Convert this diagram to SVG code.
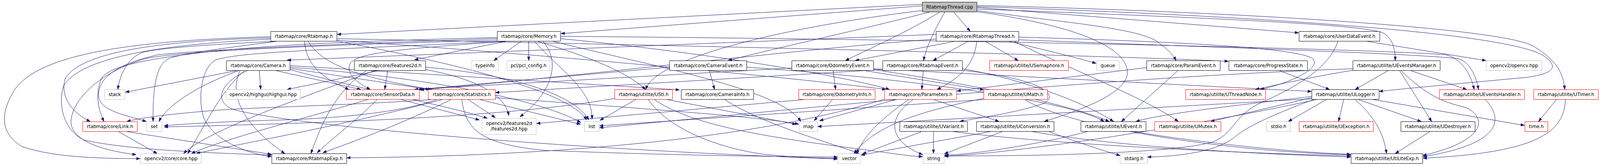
<svg xmlns="http://www.w3.org/2000/svg" width="4400" height="425" viewBox="0 0 4400 425">
<style>
.n rect{fill:#ffffff;stroke:#000000;stroke-width:1;vector-effect:non-scaling-stroke}
.g rect{stroke:#bfbfbf}
.r rect{stroke:#ff0000}
text{font-family:"DejaVu Sans","Liberation Sans",sans-serif;font-size:12.7px;text-anchor:middle;fill:#000000}
.e path{fill:none;stroke:#191970;stroke-width:1;vector-effect:non-scaling-stroke;marker-end:url(#a)}
</style>
<defs>
<marker id="a" markerUnits="userSpaceOnUse" markerWidth="11" markerHeight="8" refX="10" refY="3.5" orient="auto"><path d="M0,0 L10,3.5 L0,7 z" fill="#191970" stroke="#191970"/></marker>
</defs>
<rect width="4400" height="425" fill="#ffffff"/>
<g id="diagram" transform="scale(0.930909 1)">
<g id="edges" class="e">
<path d="M2623,31 L2668,80"/>
<path d="M2598,31 C2575,70 2548,115 2540,155"/>
<path d="M2584,31 C2500,80 2390,125 2325,155"/>
<path d="M2556,31 C2350,80 2100,130 2003,155"/>
<path d="M2536,27 C2150,70 1800,150 1776,229"/>
<path d="M2536,15 L1543,86"/>
<path d="M2536,11 L928,88"/>
<path d="M2687,19 L3571,84"/>
<path d="M2687,23 C3300,45 3760,62 3805,85 C3832,100 3837,130 3837,155"/>
<path d="M2687,14 C3400,30 4100,70 4210,115 C4280,150 4300,190 4303,229"/>
<path d="M2687,17 C3500,42 4130,85 4240,140 C4290,170 4275,188 4200,198 C4000,215 3850,228 3793,234"/>
<path d="M2687,27 C2900,55 3120,70 3180,105 C3210,125 3226,140 3234,155"/>
<path d="M2687,30 C2920,60 3090,110 3100,180 C3108,240 2960,285 2872,311"/>
<path d="M2624,106 L2352,155"/>
<path d="M2662,106 L2566,155"/>
<path d="M2686,106 C2680,170 2630,205 2577,229"/>
<path d="M2710,106 L2800,155"/>
<path d="M2775,106 C2860,125 2950,145 3014,162"/>
<path d="M2802,95 C3300,108 3570,125 3610,150 C3635,175 3550,212 3466,229"/>
<path d="M2790,106 C2900,160 3150,250 3240,311"/>
<path d="M2574,88 L790,154"/>
<path d="M2574,100 C2200,125 1600,195 1156,230"/>
<path d="M2802,102 C3300,120 3850,135 4010,150 C4045,160 4060,200 4066,229"/>
<path d="M744,94 C300,105 100,150 40,230 C0,290 0,340 60,375 C150,405 300,406 385,406"/>
<path d="M744,97 C400,105 220,140 180,200 C165,240 190,285 248,311"/>
<path d="M744,100 C420,115 220,150 175,220 C160,260 170,330 230,358 C350,385 600,392 746,397"/>
<path d="M760,106 C600,125 480,140 460,152 C430,170 420,220 421,311"/>
<path d="M752,106 C550,115 420,125 390,135 C350,150 330,190 324,229"/>
<path d="M837,106 C843,150 860,190 959,229"/>
<path d="M847,106 C880,150 930,190 1187,229"/>
<path d="M926,103 C1500,140 2200,200 2436,229"/>
<path d="M926,99 C1800,115 3000,140 3378,157"/>
<path d="M926,105 C1300,170 1570,240 1613,307"/>
<path d="M1367,96 C1000,105 800,112 600,130 C400,150 300,170 280,200 C260,240 270,280 286,311"/>
<path d="M1367,99 C1000,110 600,125 436,140 C340,160 275,190 271,240 C268,285 350,295 402,311"/>
<path d="M1367,106 C1000,125 650,130 590,155 C550,180 545,260 560,300 C580,350 660,390 746,401"/>
<path d="M1367,103 C900,115 500,130 400,150 C260,190 200,260 195,310 C195,360 280,385 374,396"/>
<path d="M1433,106 L1358,155"/>
<path d="M1454,106 L1454,155"/>
<path d="M1391,106 L1140,153"/>
<path d="M1390,106 C1100,125 990,135 965,160 C945,190 990,215 1018,229"/>
<path d="M1479,106 C1600,140 1720,180 1775,229"/>
<path d="M1470,106 C1540,180 1630,230 1628,305"/>
<path d="M1493,106 C1545,160 1515,240 1430,299"/>
<path d="M1521,106 C1800,170 2150,230 2202,311"/>
<path d="M1541,99 C1900,130 2300,190 2446,229"/>
<path d="M1541,93 C2500,100 3700,122 3975,140 C4020,150 4045,190 4054,229"/>
<path d="M650,181 L345,236"/>
<path d="M656,181 C540,220 460,270 437,311"/>
<path d="M713,181 L717,229"/>
<path d="M760,181 L992,229"/>
<path d="M797,175 L1181,229"/>
<path d="M660,181 C620,260 700,340 783,393"/>
<path d="M672,181 C600,240 560,330 516,393"/>
<path d="M797,168 L1868,230"/>
<path d="M797,172 C1200,200 1500,260 1597,314"/>
<path d="M679,181 C600,215 590,260 640,280 C800,320 1500,380 2303,407"/>
<path d="M797,178 C1000,230 1250,275 1340,303"/>
<path d="M1040,181 L790,229"/>
<path d="M1066,181 L1058,229"/>
<path d="M1007,181 C930,230 890,300 855,393"/>
<path d="M1030,181 C800,260 560,340 505,393"/>
<path d="M1170,178 C1300,200 1390,240 1399,296"/>
<path d="M1170,172 C1400,190 1580,240 1619,307"/>
<path d="M1037,255 C990,300 920,350 872,391"/>
<path d="M1011,255 C850,300 600,360 527,393"/>
<path d="M1103,255 L1318,307"/>
<path d="M1240,255 C1100,320 950,370 888,391"/>
<path d="M1216,255 C950,320 650,370 540,393"/>
<path d="M1287,255 L1362,301"/>
<path d="M1185,255 C1000,268 700,275 600,282 C450,293 380,303 349,311"/>
<path d="M1200,255 C1100,290 900,305 740,308 C600,312 500,318 452,322"/>
<path d="M1320,255 L1596,318"/>
<path d="M1270,255 C1280,330 1320,370 1500,385 C1900,400 2200,401 2303,402"/>
<path d="M1362,250 C1800,280 2100,300 2196,318"/>
<path d="M1748,255 L1650,308"/>
<path d="M1690,252 C1400,300 900,315 452,325"/>
<path d="M1835,255 L2189,318"/>
<path d="M1783,255 C1830,320 1950,375 2100,395 C2200,404 2260,405 2302,405"/>
<path d="M1800,255 C1900,320 2100,350 2350,380 C2450,392 2500,400 2537,401"/>
<path d="M1951,181 L1965,229"/>
<path d="M1841,172 L1150,229"/>
<path d="M2177,174 L1140,229"/>
<path d="M2053,172 C2500,200 2950,260 3036,311"/>
<path d="M1993,255 C2100,320 2300,370 2362,393"/>
<path d="M2291,181 L2298,229"/>
<path d="M2402,178 C2700,220 2950,270 3050,311"/>
<path d="M2379,181 L2705,230"/>
<path d="M2402,176 C2900,200 3300,220 3606,234"/>
<path d="M2539,181 L2535,229"/>
<path d="M2427,178 L1363,237"/>
<path d="M2646,176 C2800,200 2980,260 3062,311"/>
<path d="M2646,180 C2850,200 2920,240 2870,265 C2790,290 2700,300 2640,311"/>
<path d="M2464,255 L2254,309"/>
<path d="M2499,255 C2430,300 2380,340 2356,393"/>
<path d="M2511,255 C2440,300 2440,360 2537,396"/>
<path d="M2568,255 L2747,311"/>
<path d="M2436,253 C2000,380 1300,402 954,404"/>
<path d="M2289,255 L2239,309"/>
<path d="M2210,255 L1476,316"/>
<path d="M2705,255 L1649,322"/>
<path d="M2705,252 C2500,290 2400,330 2348,393"/>
<path d="M2818,255 C2950,330 3400,390 3714,396"/>
<path d="M2567,337 L2567,393"/>
<path d="M2534,337 L2372,394"/>
<path d="M2622,337 C2900,370 3400,392 3714,399"/>
<path d="M2756,337 L2597,394"/>
<path d="M2723,337 L2368,397"/>
<path d="M2839,337 C3100,380 3500,395 3714,402"/>
<path d="M2885,337 C2950,360 3030,385 3080,398"/>
<path d="M3647,255 L3543,311"/>
<path d="M3695,255 L3681,311"/>
<path d="M3736,255 L3908,311"/>
<path d="M3777,255 L4192,321"/>
<path d="M3727,255 C3780,300 3805,340 3813,393"/>
<path d="M3607,250 L3330,311"/>
<path d="M3612,255 C3480,300 3420,330 3390,355 C3330,395 3210,401 3156,402"/>
<path d="M3607,247 C3400,270 3200,290 3124,311"/>
<path d="M3620,255 C3300,320 2800,392 2597,400"/>
<path d="M3607,253 L2249,324"/>
<path d="M3817,181 L3727,229"/>
<path d="M3880,181 L4033,229"/>
<path d="M3849,181 L3937,311"/>
<path d="M3853,181 C3920,240 3960,260 4030,275 C4090,300 4090,360 3913,398"/>
<path d="M3720,180 C3620,195 3520,215 3453,229"/>
<path d="M3720,176 C3000,200 2300,270 1649,327"/>
<path d="M3760,106 L4086,155"/>
<path d="M3679,106 C3655,175 3560,225 3470,262 C3390,295 3395,345 3330,365 C3200,395 2800,400 2598,399"/>
<path d="M3239,181 L3084,311"/>
<path d="M3153,173 L2632,233"/>
<path d="M3519,181 L3656,229"/>
<path d="M2990,337 C2900,360 2700,395 2598,397"/>
<path d="M3118,337 C3300,365 3550,390 3714,395"/>
<path d="M4085,255 C4140,310 4120,370 3914,401"/>
<path d="M4280,255 L4231,311"/>
<path d="M4305,255 C4300,330 4250,390 3914,405"/>
<path d="M3932,337 L3837,393"/>
<path d="M326,337 L432,393"/>
<path d="M349,337 L746,395"/>
</g>
<g id="n0" class="n"><rect x="2536.5" y="5.5" width="150" height="25" style="fill:#bfbfbf"/><text x="2611.5" y="22.3">RtabmapThread.cpp</text></g>
<g id="n1" class="n"><rect x="744.5" y="80.5" width="182" height="25"/><text x="835.5" y="97.3">rtabmap/core/Rtabmap.h</text></g>
<g id="n2" class="n"><rect x="1367.5" y="80.5" width="174" height="25"/><text x="1454.5" y="97.3">rtabmap/core/Memory.h</text></g>
<g id="n3" class="n"><rect x="2574.5" y="80.5" width="227" height="25"/><text x="2688" y="97.3">rtabmap/core/RtabmapThread.h</text></g>
<g id="n4" class="n"><rect x="3572.5" y="80.5" width="222" height="25"/><text x="3683.5" y="97.3">rtabmap/core/UserDataEvent.h</text></g>
<g id="n5" class="n"><rect x="622.5" y="155.5" width="175" height="25"/><text x="710" y="172.3">rtabmap/core/Camera.h</text></g>
<g id="n6" class="n"><rect x="974.5" y="155.5" width="196" height="25"/><text x="1072.5" y="172.3">rtabmap/core/Features2d.h</text></g>
<g id="n7" class="n g"><rect x="1297.5" y="155.5" width="73" height="25"/><text x="1334" y="172.3">typeinfo</text></g>
<g id="n8" class="n g"><rect x="1394.5" y="155.5" width="118" height="25"/><text x="1453.5" y="172.3">pcl/pcl_config.h</text></g>
<g id="n9" class="n"><rect x="1841.5" y="155.5" width="212" height="25"/><text x="1947.5" y="172.3">rtabmap/core/CameraEvent.h</text></g>
<g id="n10" class="n"><rect x="2177.5" y="155.5" width="225" height="25"/><text x="2290" y="172.3">rtabmap/core/OdometryEvent.h</text></g>
<g id="n11" class="n"><rect x="2427.5" y="155.5" width="219" height="25"/><text x="2537" y="172.3">rtabmap/core/RtabmapEvent.h</text></g>
<g id="n12" class="n r"><rect x="2721.5" y="155.5" width="217" height="25"/><text x="2830" y="172.3">rtabmap/utilite/USemaphore.h</text></g>
<g id="n13" class="n g"><rect x="3015.5" y="155.5" width="62" height="25"/><text x="3046.5" y="172.3">queue</text></g>
<g id="n14" class="n"><rect x="3153.5" y="155.5" width="202" height="25"/><text x="3254.5" y="172.3">rtabmap/core/ParamEvent.h</text></g>
<g id="n15" class="n"><rect x="3379.5" y="155.5" width="216" height="25"/><text x="3487.5" y="172.3">rtabmap/core/ProgressState.h</text></g>
<g id="n16" class="n"><rect x="3720.5" y="155.5" width="240" height="25"/><text x="3840.5" y="172.3">rtabmap/utilite/UEventsManager.h</text></g>
<g id="n17" class="n g"><rect x="4087.5" y="155.5" width="153" height="25"/><text x="4164" y="172.3">opencv2/opencv.hpp</text></g>
<g id="n18" class="n g"><rect x="287.5" y="229.5" width="56" height="25"/><text x="315.5" y="246.3">stack</text></g>
<g id="n19" class="n g"><rect x="621.5" y="229.5" width="204" height="25"/><text x="723.5" y="246.3">opencv2/highgui/highgui.hpp</text></g>
<g id="n20" class="n r"><rect x="952.5" y="229.5" width="201" height="25"/><text x="1053" y="246.3">rtabmap/core/SensorData.h</text></g>
<g id="n21" class="n r"><rect x="1177.5" y="229.5" width="185" height="25"/><text x="1270" y="246.3">rtabmap/core/Statistics.h</text></g>
<g id="n22" class="n r"><rect x="1690.5" y="229.5" width="159" height="25"/><text x="1770" y="246.3">rtabmap/utilite/UStl.h</text></g>
<g id="n23" class="n"><rect x="1873.5" y="229.5" width="199" height="25"/><text x="1973" y="246.3">rtabmap/core/CameraInfo.h</text></g>
<g id="n24" class="n r"><rect x="2196.5" y="229.5" width="210" height="25"/><text x="2301.5" y="246.3">rtabmap/core/OdometryInfo.h</text></g>
<g id="n25" class="n r"><rect x="2432.5" y="229.5" width="198" height="25"/><text x="2531.5" y="246.3">rtabmap/core/Parameters.h</text></g>
<g id="n26" class="n r"><rect x="2705.5" y="229.5" width="175" height="25"/><text x="2793" y="246.3">rtabmap/utilite/UMath.h</text></g>
<g id="n27" class="n r"><rect x="3260.5" y="229.5" width="220" height="25"/><text x="3370.5" y="246.3">rtabmap/utilite/UThreadNode.h</text></g>
<g id="n28" class="n"><rect x="3607.5" y="229.5" width="185" height="25"/><text x="3700" y="246.3">rtabmap/utilite/ULogger.h</text></g>
<g id="n29" class="n r"><rect x="3958.5" y="229.5" width="234" height="25"/><text x="4075.5" y="246.3">rtabmap/utilite/UEventsHandler.h</text></g>
<g id="n30" class="n r"><rect x="4217.5" y="229.5" width="178" height="25"/><text x="4306.5" y="246.3">rtabmap/utilite/UTimer.h</text></g>
<g id="n31" class="n r"><rect x="227.5" y="311.5" width="150" height="25"/><text x="302.5" y="328.3">rtabmap/core/Link.h</text></g>
<g id="n32" class="n g"><rect x="402.5" y="311.5" width="43" height="25"/><text x="424" y="328.3">set</text></g>
<g id="n33" class="n g"><rect x="1325.5" y="303.5" width="149" height="41"/><text x="1400" y="320.5">opencv2/features2d</text><text x="1400" y="334.5">/features2d.hpp</text></g>
<g id="n34" class="n g"><rect x="1607.5" y="311.5" width="40" height="25"/><text x="1627.5" y="328.3">list</text></g>
<g id="n35" class="n g"><rect x="2197.5" y="311.5" width="51" height="25"/><text x="2223" y="328.3">map</text></g>
<g id="n36" class="n"><rect x="2474.5" y="311.5" width="186" height="25"/><text x="2567.5" y="328.3">rtabmap/utilite/UVariant.h</text></g>
<g id="n37" class="n"><rect x="2685.5" y="311.5" width="213" height="25"/><text x="2792" y="328.3">rtabmap/utilite/UConversion.h</text></g>
<g id="n38" class="n"><rect x="2972.5" y="311.5" width="179" height="25"/><text x="3062" y="328.3">rtabmap/utilite/UEvent.h</text></g>
<g id="n39" class="n r"><rect x="3175.5" y="311.5" width="182" height="25"/><text x="3266.5" y="328.3">rtabmap/utilite/UMutex.h</text></g>
<g id="n40" class="n g"><rect x="3483.5" y="311.5" width="65" height="25"/><text x="3516" y="328.3">stdio.h</text></g>
<g id="n41" class="n r"><rect x="3572.5" y="311.5" width="204" height="25"/><text x="3674.5" y="328.3">rtabmap/utilite/UException.h</text></g>
<g id="n42" class="n"><rect x="3852.5" y="311.5" width="204" height="25"/><text x="3954.5" y="328.3">rtabmap/utilite/UDestroyer.h</text></g>
<g id="n43" class="n r"><rect x="4193.5" y="311.5" width="63" height="25"/><text x="4225" y="328.3">time.h</text></g>
<g id="n44" class="n g"><rect x="386.5" y="393.5" width="167" height="25"/><text x="470" y="410.3">opencv2/core/core.hpp</text></g>
<g id="n45" class="n"><rect x="747.5" y="393.5" width="206" height="25"/><text x="850.5" y="410.3">rtabmap/core/RtabmapExp.h</text></g>
<g id="n46" class="n g"><rect x="2304.5" y="393.5" width="62" height="25"/><text x="2335.5" y="410.3">vector</text></g>
<g id="n47" class="n g"><rect x="2538.5" y="393.5" width="58" height="25"/><text x="2567.5" y="410.3">string</text></g>
<g id="n48" class="n g"><rect x="3080.5" y="393.5" width="75" height="25"/><text x="3118" y="410.3">stdarg.h</text></g>
<g id="n49" class="n"><rect x="3715.5" y="393.5" width="197" height="25"/><text x="3814" y="410.3">rtabmap/utilite/UtiLiteExp.h</text></g>
</g>
</svg>
